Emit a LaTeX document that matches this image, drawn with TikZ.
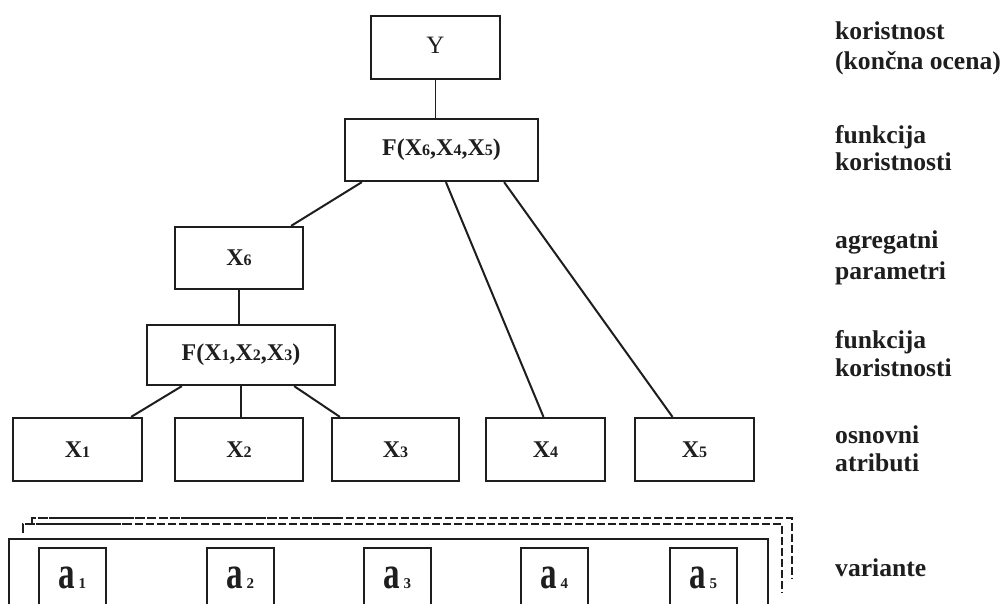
\documentclass[tikz,border=0pt]{standalone}
\usepackage{fontspec}
\usepackage{graphicx}
\setmainfont{Liberation Serif}
\usetikzlibrary{calc}

\definecolor{ink}{HTML}{1E1E1E}
% small digit set on the baseline, used as an index
\newcommand{\dig}[1]{{\fontsize{16}{16}\selectfont #1}}
% variant label: condensed bold a with a small index
\newcommand{\varlab}[1]{\raisebox{4pt}{\scalebox{0.72}[1]{\fontsize{46}{46}\selectfont a}\hspace{3pt}{\fontsize{15}{15}\selectfont #1}}}

\begin{document}
\begin{tikzpicture}[x=1pt,y=-1pt,
  box/.style={draw=ink, line width=2.2pt, rectangle, inner sep=0pt, text=ink,
    font=\bfseries\fontsize{24}{24}\selectfont},
  link/.style={draw=ink, line width=2pt},
  thinlink/.style={draw=ink, line width=1.1pt},
  side/.style={anchor=base west, inner sep=0pt, text=ink,
    font=\bfseries\fontsize{25.6}{28}\selectfont},
  backthin/.style={draw=ink, line width=1.2pt, dash pattern=on 8pt off 3pt},
  backbold/.style={draw=ink, line width=2.4pt, dash pattern=on 9pt off 3pt},
]
\clip (0,0) rectangle (1006,603);
\fill[white] (0,0) rectangle (1006,603);

% hierarchy of criteria
\node[box, minimum width=129pt, minimum height=63pt, font=\fontsize{25}{25}\selectfont] (Y) at (435.5,47.5) {\raisebox{4pt}{Y}};
\node[box, minimum width=193pt, minimum height=62pt] (F6) at (441.5,150) {F(X\dig{6},X\dig{4},X\dig{5})};
\node[box, minimum width=128pt, minimum height=62pt] (X6) at (239,258) {X\dig{6}};
\node[box, minimum width=188pt, minimum height=60pt] (F3) at (241,355) {F(X\dig{1},X\dig{2},X\dig{3})};
\node[box, minimum width=129pt, minimum height=63pt] (X1) at (77.5,449.5) {X\dig{1}};
\node[box, minimum width=128pt, minimum height=63pt] (X2) at (239,449.5) {X\dig{2}};
\node[box, minimum width=127pt, minimum height=63pt] (X3) at (395.5,449.5) {X\dig{3}};
\node[box, minimum width=119pt, minimum height=63pt] (X4) at (545.5,449.5) {X\dig{4}};
\node[box, minimum width=119pt, minimum height=63pt] (X5) at (694.5,449.5) {X\dig{5}};

% connectors
\draw[thinlink] (Y.south) -- (Y.south |- F6.north);
\draw[link] ([xshift=18pt]F6.south west) -- ([xshift=-13pt]X6.north east);
\draw[link] ([xshift=102pt]F6.south west) -- ([xshift=-2pt]X4.north);
\draw[link] ([xshift=-35pt]F6.south east) -- ([xshift=-22pt]X5.north);
\draw[link] (X6.south) -- (X6.south |- F3.north);
\draw[link] ([xshift=36pt]F3.south west) -- ([xshift=-12pt]X1.north east);
\draw[link] (F3.south) -- (F3.south |- X2.north);
\draw[link] ([xshift=-42pt]F3.south east) -- ([xshift=9pt]X3.north west);

% stacked set of variants (back layers dashed)
\draw[backthin] (32,523) -- (32,518) -- (792,518) -- (792,579);
\draw[backthin] (23,533) -- (23,524) -- (782,524) -- (782,593);
\draw[backbold] (32,523) -- (32,518) -- (340,518);
\draw[backbold] (23,533) -- (23,524) -- (132,524);
\draw[draw=ink, line width=2.2pt] (9,620) -- (9,539) -- (768,539) -- (768,620);

\node[box, minimum width=67pt, minimum height=63pt, anchor=north] (a1) at (72.5,547) {\varlab{1}};
\node[box, minimum width=67pt, minimum height=63pt, anchor=north] (a2) at (240.5,547) {\varlab{2}};
\node[box, minimum width=67pt, minimum height=63pt, anchor=north] (a3) at (397.5,547) {\varlab{3}};
\node[box, minimum width=67pt, minimum height=63pt, anchor=north] (a4) at (554.5,547) {\varlab{4}};
\node[box, minimum width=67pt, minimum height=63pt, anchor=north] (a5) at (703.5,547) {\varlab{5}};

% level captions
\node[side] (c1a) at (835,39) {koristnost};
\node[side] (c1b) at (835,69) {(končna ocena)};
\node[side] (c2a) at (835,143) {funkcija};
\node[side] (c2b) at (835,170) {koristnosti};
\node[side] (c3a) at (835,248) {agregatni};
\node[side] (c3b) at (835,279) {parametri};
\node[side] (c4a) at (835,348) {funkcija};
\node[side] (c4b) at (835,376) {koristnosti};
\node[side] (c5a) at (835,443) {osnovni};
\node[side] (c5b) at (835,471) {atributi};
\node[side] (c6) at (835,576) {variante};
\end{tikzpicture}
\end{document}
